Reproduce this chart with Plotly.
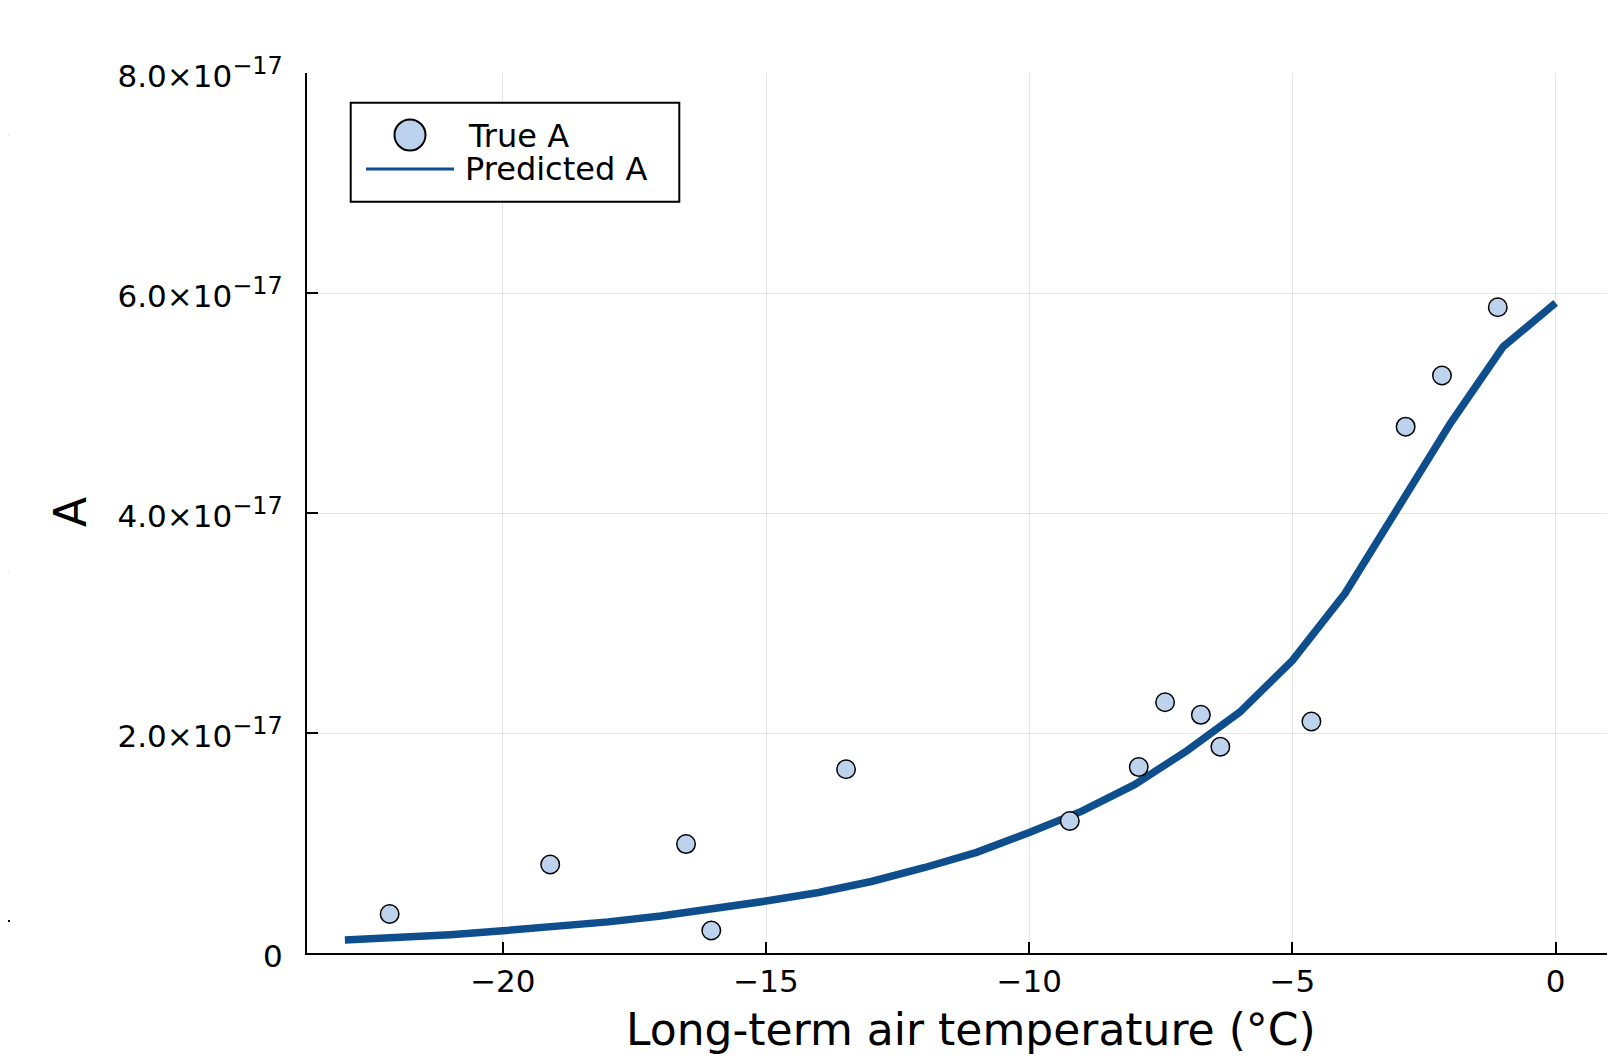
import plotly.graph_objects as go

# ---------------- data ----------------
temp_true = [-22.15, -19.10, -16.52, -16.04, -13.48, -9.23, -7.92, -7.42,
             -6.74, -6.37, -4.64, -2.85, -2.16, -1.10]
a_true_e17 = [0.355, 0.805, 0.99, 0.205, 1.67, 1.20, 1.69, 2.28,
              2.165, 1.875, 2.105, 4.785, 5.25, 5.87]

temp_pred = [-23, -22, -21, -20, -19, -18, -17, -16, -15, -14, -13, -12,
             -11, -10, -9, -8, -7, -6, -5, -4, -3, -2, -1, 0]
a_pred_e17 = [0.118, 0.140, 0.167, 0.202, 0.238, 0.283, 0.336, 0.399,
              0.472, 0.55, 0.65, 0.775, 0.915, 1.095, 1.29, 1.53,
              1.84, 2.19, 2.66, 3.27, 4.05, 4.815, 5.51, 5.91]

x_tickvals = [-20, -15, -10, -5, 0]
x_ticktext = ["−20", "−15", "−10", "−5", "0"]
y_tickvals_e17 = [0, 2, 4, 6, 8]
y_mantissas = ["2.0", "4.0", "6.0", "8.0"]
y_exponent = "−17"

series_names = ["True A", "Predicted A"]
x_title = "Long-term air temperature (°C)"
y_title = "A"

a_true = [v * 1e-17 for v in a_true_e17]
a_pred = [v * 1e-17 for v in a_pred_e17]
y_tickvals = [v * 1e-17 for v in y_tickvals_e17]
y_ticktext = ["0"] + [
    f'{m}×10<sup><span style="font-size:24px">{y_exponent}</span></sup>'
    for m in y_mantissas
]

# ---------------- style ----------------
OFF = 8  # page offset of the figure (body margin)
W, H = 1615 - OFF, 1058 - OFF
ML, MR, MT, MB = 307 - OFF, 0, 73 - OFF, 105
PW, PH = W - ML - MR, H - MT - MB
FONT = "DejaVu Sans"
LINE_COLOR = "#0f4e8c"
MARKER_COLOR = "#bdd3ed"


def px_x(p):
    return (p - OFF - ML) / PW


def px_y(p):
    return (H - MB - (p - OFF)) / PH


fig = go.Figure()
fig.add_trace(go.Scatter(
    x=temp_pred, y=a_pred, mode="lines", name=series_names[1],
    line=dict(color=LINE_COLOR, width=7.5), showlegend=False))
fig.add_trace(go.Scatter(
    x=temp_true, y=a_true, mode="markers", name=series_names[0],
    marker=dict(size=18.5, color=MARKER_COLOR,
                line=dict(color="black", width=1.5)),
    showlegend=False))

axis_common = dict(
    showline=True, linecolor="black", linewidth=2,
    ticks="inside", ticklen=11, tickwidth=2, tickcolor="black",
    showgrid=True, gridcolor="rgba(0,0,0,0.1)", gridwidth=1,
    zeroline=False, tickfont=dict(family=FONT, size=31, color="black"),
)

fig.update_xaxes(range=[-23.72, 1.127], tickvals=x_tickvals,
                 ticktext=x_ticktext, ticklabelstandoff=0, **axis_common)
fig.update_yaxes(range=[0, 8e-17], tickvals=y_tickvals,
                 ticktext=y_ticktext, ticklabelstandoff=16,
                 ticklabelshift=3, **axis_common)

shapes = []
annotations = []

# legend box
shapes.append(dict(type="rect", xref="paper", yref="paper",
                   x0=px_x(350.7), x1=px_x(679.3), y0=px_y(201.7), y1=px_y(102.7),
                   line=dict(color="black", width=2), fillcolor="white", layer="above"))
# legend marker
r = 15.5
shapes.append(dict(type="circle", xref="paper", yref="paper",
                   x0=px_x(410 - r), x1=px_x(410 + r), y0=px_y(135 + r), y1=px_y(135 - r),
                   line=dict(color="black", width=2), fillcolor=MARKER_COLOR, layer="above"))
# legend line
shapes.append(dict(type="line", xref="paper", yref="paper",
                   x0=px_x(366), x1=px_x(454), y0=px_y(169), y1=px_y(169),
                   line=dict(color=LINE_COLOR, width=3), layer="above"))
annotations.append(dict(text=series_names[0], xref="paper", yref="paper",
                        x=px_x(466), y=px_y(136), xanchor="left", yanchor="middle",
                        showarrow=False, font=dict(family=FONT, size=32, color="black")))
annotations.append(dict(text=series_names[1], xref="paper", yref="paper",
                        x=px_x(463), y=px_y(168.5), xanchor="left", yanchor="middle",
                        showarrow=False, font=dict(family=FONT, size=32, color="black")))

# axis titles
annotations.append(dict(text=x_title, xref="paper", yref="paper",
                        x=px_x(971), y=px_y(1030), xanchor="center", yanchor="middle",
                        showarrow=False, font=dict(family=FONT, size=44, color="black")))
annotations.append(dict(text=y_title, xref="paper", yref="paper",
                        x=px_x(70), y=px_y(512), xanchor="center", yanchor="middle",
                        textangle=-90, showarrow=False,
                        font=dict(family=FONT, size=44, color="black")))

# remnants of a neighbouring panel at the left edge
for yy, col, w in [(135, "rgba(0,0,0,0.1)", 1), (572.7, "rgba(0,0,0,0.1)", 1), (921, "black", 2)]:
    shapes.append(dict(type="line", xref="paper", yref="paper",
                       x0=px_x(0), x1=px_x(10), y0=px_y(yy), y1=px_y(yy),
                       line=dict(color=col, width=w)))

fig.update_layout(
    width=W, height=H,
    margin=dict(l=ML, r=MR, t=MT, b=MB, pad=0),
    paper_bgcolor="white", plot_bgcolor="white",
    showlegend=False,
    shapes=shapes, annotations=annotations,
    font=dict(family=FONT, color="black"),
)

fig.write_html("out.html")
